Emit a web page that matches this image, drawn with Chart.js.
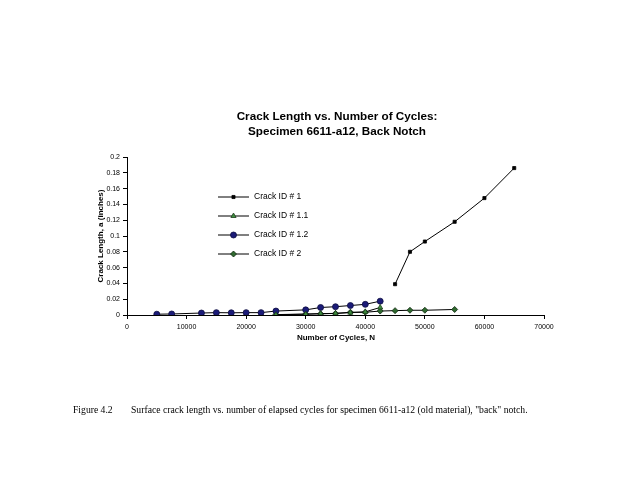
<!DOCTYPE html>
<html><head><meta charset="utf-8">
<script src="https://cdn.jsdelivr.net/npm/chart.js@4.4.1/dist/chart.umd.min.js"></script>
<style>html,body{margin:0;padding:0;background:#fff;}#wrap{width:638px;height:493px;position:relative;}</style>
</head><body><div id="wrap"><canvas id="c" width="638" height="493"></canvas></div>
<script>
const titleLines = ["Crack Length vs. Number of Cycles:", "Specimen 6611-a12, Back Notch"];
const xTitle = "Number of Cycles, N";
const yTitle = "Crack Length, a (inches)";
const caption = ["Figure 4.2", "Surface crack length vs. number of elapsed cycles for specimen 6611-a12 (old material), \"back\" notch."];
const seriesNames = ["Crack ID # 1", "Crack ID # 1.1", "Crack ID # 1.2", "Crack ID # 2"];

const n1  = [45000, 47500, 50000, 55000, 60000, 65000];
const a1  = [0.039, 0.080, 0.093, 0.118, 0.148, 0.186];
const n11 = [25000, 30000, 32500, 35000, 37500, 40000, 42500];
const a11 = [0.0003, 0.001, 0.0018, 0.002, 0.003, 0.004, 0.0095];
const n12 = [5000, 7500, 12500, 15000, 17500, 20000, 22500, 25000, 30000, 32500, 35000, 37500, 40000, 42500];
const a12 = [0.001, 0.0013, 0.0025, 0.003, 0.0028, 0.003, 0.003, 0.005, 0.0065, 0.0095, 0.0105, 0.012, 0.0135, 0.0175];
const n2  = [25000, 30000, 32500, 35000, 37500, 40000, 42500, 45000, 47500, 50000, 55000];
const a2  = [0.0005, 0.0012, 0.0015, 0.002, 0.0035, 0.0035, 0.005, 0.0055, 0.006, 0.006, 0.007];
const xTicks = [0, 10000, 20000, 30000, 40000, 50000, 60000, 70000];
const yTicks = [0, 0.02, 0.04, 0.06, 0.08, 0.1, 0.12, 0.14, 0.16, 0.18, 0.2];

const pts = (xs, ys) => xs.map((x, i) => ({x: x, y: ys[i]}));

const styles = [
  {pointStyle: 'rect', radius: 2.2, bg: '#000000', border: '#000000'},
  {pointStyle: 'triangle', radius: 3, bg: '#3f8f3f', border: '#1d3d1d'},
  {pointStyle: 'circle', radius: 3, bg: '#1b1b78', border: '#0d0d40'},
  {pointStyle: 'rectRot', radius: 3, bg: '#2f6a2f', border: '#102810'}
];
const dataSets = [pts(n1, a1), pts(n11, a11), pts(n12, a12), pts(n2, a2)];

const datasets = dataSets.map((d, i) => ({
  label: seriesNames[i],
  data: d,
  showLine: true,
  borderColor: '#000000',
  borderWidth: 1,
  tension: 0,
  pointStyle: styles[i].pointStyle,
  pointRadius: styles[i].radius,
  pointBackgroundColor: styles[i].bg,
  pointBorderColor: styles[i].border,
  pointBorderWidth: 0.8
}));

const textPlugin = {
  id: 'texts',
  afterDraw(chart) {
    const ctx = chart.ctx;
    ctx.save();
    ctx.fillStyle = '#000';
    ctx.textBaseline = 'middle';
    // title
    ctx.font = 'bold 11.7px "Liberation Sans", Arial, sans-serif';
    ctx.textAlign = 'center';
    ctx.fillText(titleLines[0], 337, 117);
    ctx.fillText(titleLines[1], 337, 132);
    // axis titles
    ctx.font = 'bold 8px "Liberation Sans", Arial, sans-serif';
    ctx.fillText(xTitle, 336, 338);
    ctx.save();
    ctx.translate(101, 236);
    ctx.rotate(-Math.PI / 2);
    ctx.fillText(yTitle, 0, 0);
    ctx.restore();
    // legend
    const rows = [197, 216, 235, 254];
    ctx.font = '8.5px "Liberation Sans", Arial, sans-serif';
    ctx.textAlign = 'left';
    rows.forEach((y, i) => {
      ctx.strokeStyle = '#000';
      ctx.lineWidth = 1;
      ctx.beginPath();
      ctx.moveTo(218, y);
      ctx.lineTo(249, y);
      ctx.stroke();
      ctx.fillStyle = styles[i].bg;
      ctx.strokeStyle = styles[i].border;
      ctx.lineWidth = 0.8;
      Chart.helpers.drawPoint(ctx, {pointStyle: styles[i].pointStyle, radius: styles[i].radius, rotation: 0, borderWidth: 0.8}, 233.5, y);
      ctx.fillStyle = '#000';
      ctx.fillText(seriesNames[i], 254, y);
    });
    // caption
    ctx.font = '10px "Liberation Serif", "Times New Roman", serif';
    const w = ctx.measureText(caption[1]).width;
    const fs = Math.min(10, 10 * 397 / w);
    ctx.font = fs.toFixed(2) + 'px "Liberation Serif", "Times New Roman", serif';
    ctx.fillText(caption[0], 73, 410);
    ctx.fillText(caption[1], 131, 410);
    ctx.restore();
  }
};

new Chart(document.getElementById('c'), {
  type: 'scatter',
  data: {datasets: datasets},
  options: {
    responsive: false,
    animation: false,
    devicePixelRatio: 1,
    layout: {padding: {left: 90, right: 94, top: 157, bottom: 148}},
    plugins: {legend: {display: false}, tooltip: {enabled: false}, title: {display: false}},
    scales: {
      x: {
        type: 'linear', min: 0, max: 70000,
        afterBuildTicks: (s) => { s.ticks = xTicks.map(v => ({value: v})); },
        afterFit: (s) => { s.height = 30; },
        border: {color: '#000', width: 1},
        grid: {drawOnChartArea: false, drawTicks: true, tickLength: 4, color: '#000'},
        ticks: {color: '#000', font: {size: 7, family: '"Liberation Sans", Arial, sans-serif'}, maxRotation: 0, padding: 4,
          callback: (v) => String(v)}
      },
      y: {
        type: 'linear', min: 0, max: 0.2,
        afterBuildTicks: (s) => { s.ticks = yTicks.map(v => ({value: v})); },
        afterFit: (s) => { s.width = 37; },
        border: {color: '#000', width: 1},
        grid: {drawOnChartArea: false, drawTicks: true, tickLength: 4, color: '#000'},
        ticks: {color: '#000', font: {size: 7, family: '"Liberation Sans", Arial, sans-serif'}, padding: 3,
          callback: (v) => String(+v.toFixed(2))}
      }
    }
  },
  plugins: [textPlugin]
});
</script></body></html>
